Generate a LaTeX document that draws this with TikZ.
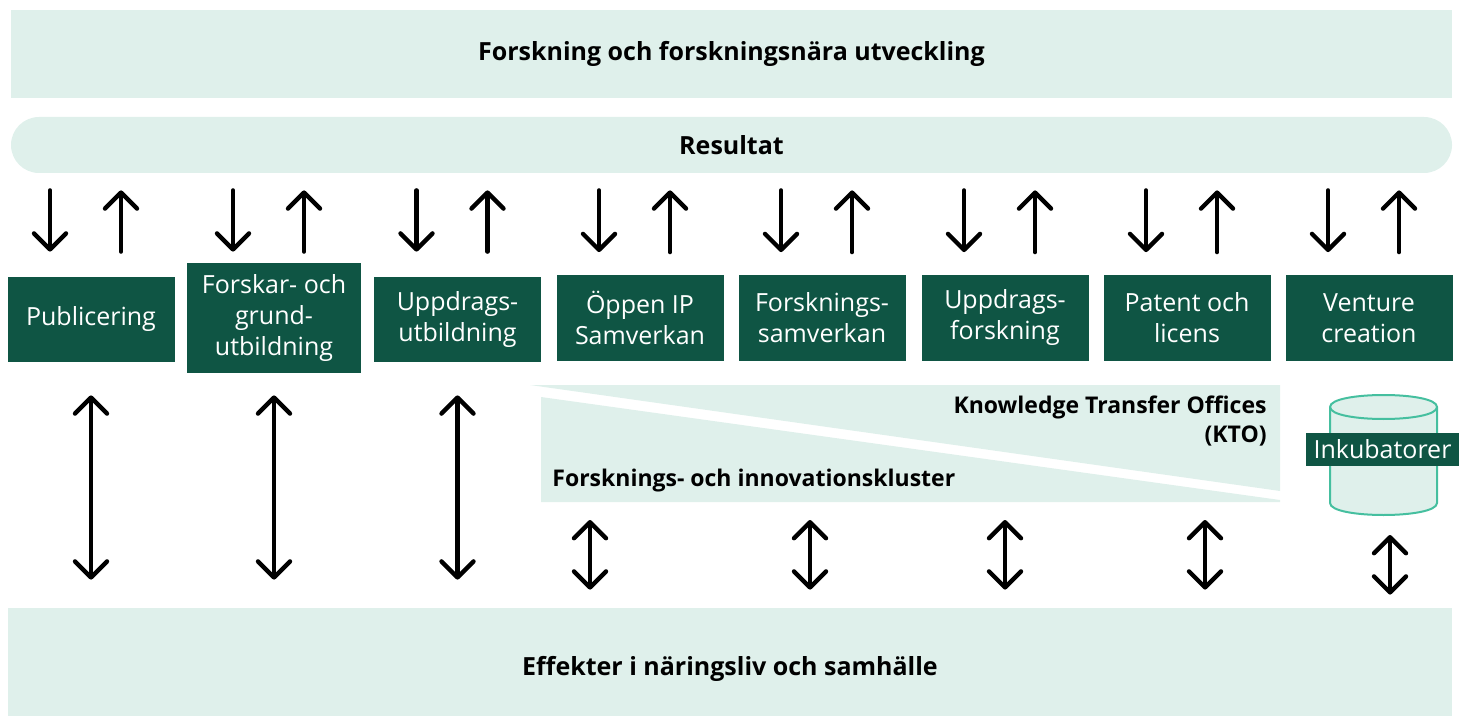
\documentclass[tikz,border=0pt]{standalone}
\usepackage{fontspec}
\setmainfont{Open Sans}
\usetikzlibrary{arrows.meta}
\definecolor{mint}{HTML}{DFF0EB}
\definecolor{skog}{HTML}{0F5544}
\definecolor{kant}{HTML}{45BF9F}

\begin{document}
\begin{tikzpicture}[x=0.5pt,y=-0.5pt,>={Straight Barb[length=8pt,width=16pt,line width=2.2pt,round]}]
\tikzstyle{band}=[fill=mint,minimum width=720.5pt,inner sep=0pt,font=\bfseries\fontsize{12.5}{15}\selectfont]
\tikzstyle{ruta}=[fill=skog,text=white,minimum width=83.5pt,minimum height=42.5pt,inner sep=2pt,align=center,font=\fontsize{12.5}{15.5}\selectfont]
\tikzstyle{pil}=[black,line width=2.2pt,line cap=round]
\tikzstyle{rubrik}=[inner sep=0pt,font=\bfseries\fontsize{11.5}{14.5}\selectfont]

\useasboundingbox (0,0) rectangle (1465,716);

\node[band,minimum height=44pt] (FOU) at (731.5,54) {Forskning och forskningsnära utveckling};
\node[band,minimum height=28pt,rounded corners=14pt] (RES) at (731.5,145) {Resultat};
\node[band,minimum width=722pt,minimum height=61pt] (EFF) at (730,669) {Effekter i näringsliv och samhälle};

\node[ruta] (PUB) at (91,319.5) {Publicering};
\node[ruta,minimum width=87pt,minimum height=55pt] (FGU) at (274,318) {Forskar- och\\grund-\\utbildning};
\node[ruta] (UU) at (457.5,319.5) {Uppdrags-\\utbildning};
\node[ruta] (OIP) at (640,318) {Öppen IP\\Samverkan};
\node[ruta] (FS) at (822,318) {Forsknings-\\samverkan};
\node[ruta] (UF) at (1005,318) {Uppdrags-\\forskning};
\node[ruta] (PL) at (1187,318) {Patent och\\licens};
\node[ruta] (VC) at (1369,318) {Venture\\creation};

% KTO och kluster
\fill[mint] (530,385) -- (1280,385) -- (1280,491) -- cycle;
\fill[mint] (541,397) -- (1280,500) -- (1280,502) -- (541,502) -- cycle;
\node[rubrik,anchor=east,align=right] (KTO) at (1267,421.5) {Knowledge Transfer Offices\\(KTO)};
\node[rubrik,anchor=west] (FIK) at (552,481) {Forsknings- och innovationskluster};

% inkubator
\filldraw[fill=mint,draw=kant,line width=1pt] (1330,407) -- (1330,503) .. controls (1330,519) and (1437,519) .. (1437,503) -- (1437,407) .. controls (1437,391) and (1330,391) .. (1330,407) -- cycle;
\draw[kant,line width=1pt] (1330,407) .. controls (1330,423) and (1437,423) .. (1437,407);
\coordinate (CYL) at (1390,515);
\node[fill=skog,text=white,minimum width=76.5pt,minimum height=16.5pt,inner sep=0pt,font=\fontsize{12.5}{15}\selectfont] (INK) at (1382.5,449.5) {Inkubatorer};

\foreach \b/\s in {PUB/12.5pt,FGU/5.5pt,UU/12.5pt,OIP/11.5pt,FS/11.5pt,UF/11.5pt,PL/11.5pt,VC/11.5pt}{
  \draw[pil,->,shorten <=8.5pt,shorten >=\s] ([xshift=-20.5pt]\b.north |- RES.south) -- ([xshift=-20.5pt]\b.north);
  \draw[pil,->,shorten <=\s,shorten >=8.5pt] ([xshift=15pt]\b.north) -- ([xshift=15pt]\b.north |- RES.south);
}

\foreach \b/\s in {PUB/16.5pt,FGU/11pt,UU/16.5pt}
  \draw[pil,<->,shorten <=\s,shorten >=14pt] (\b.south) -- (\b.south |- EFF.north);

\foreach \x [count=\i] in {590,810,1005,1205}{
  \coordinate (K\i) at (\x,502);
  \draw[pil,<->,shorten <=9pt,shorten >=9pt] (K\i) -- (K\i |- EFF.north);
}
\draw[pil,<->,shorten <=10pt,shorten >=6.5pt] (CYL) -- (CYL |- EFF.north);

\end{tikzpicture}
\end{document}
